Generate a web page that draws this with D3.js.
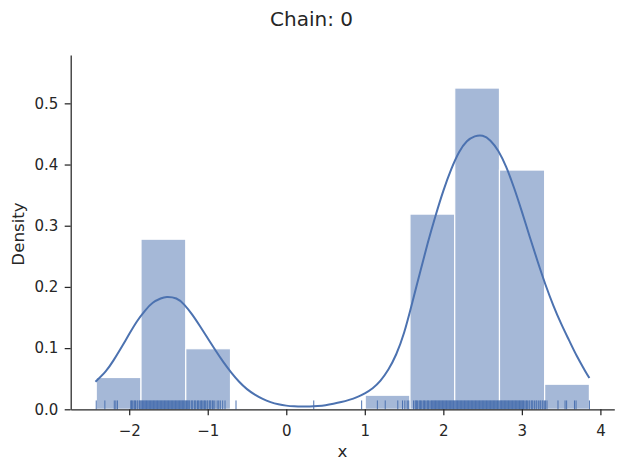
<!DOCTYPE html>
<html>
<head>
<meta charset="utf-8">
<script src="https://cdn.jsdelivr.net/npm/d3@7"></script>
<style>
body { margin: 0; background: #fff; }
svg text { font-family: "DejaVu Sans", sans-serif; fill: #262626; }
</style>
</head>
<body>
<div id="chart"></div>
<script>
var barColor = "#4c72b0";
var inkColor = "#262626";

/*** data ***/
var binEdges = [-2.42, -1.85, -1.28, -0.71, -0.14, 0.435, 1.005, 1.575, 2.145, 2.715, 3.29, 3.86];
var binDensity = [0.052, 0.278, 0.099, 0.002, 0.002, 0.002, 0.023, 0.319, 0.525, 0.391, 0.041];

var kdeX = [-2.43, -2.3, -2.2, -2.1, -2.0, -1.9, -1.8, -1.7, -1.6, -1.52, -1.4, -1.3, -1.2, -1.1, -1.0,
  -0.9, -0.8, -0.7, -0.6, -0.5, -0.4, -0.3, -0.2, -0.1, 0.0, 0.1, 0.2, 0.3, 0.4, 0.5, 0.6, 0.7, 0.8,
  0.9, 1.0, 1.1, 1.2, 1.3, 1.4, 1.5, 1.6, 1.7, 1.8, 1.9, 2.0, 2.1, 2.2, 2.3, 2.4, 2.5, 2.6, 2.7, 2.8,
  2.9, 3.0, 3.1, 3.2, 3.3, 3.4, 3.5, 3.6, 3.7, 3.8, 3.86];
var kdeY = [0.045, 0.062, 0.080, 0.101, 0.123, 0.144, 0.161, 0.174, 0.181, 0.1835, 0.181, 0.171, 0.155, 0.136, 0.116,
  0.096, 0.077, 0.060, 0.045, 0.033, 0.024, 0.017, 0.0118, 0.0082, 0.006, 0.0049, 0.0045, 0.0047, 0.0055, 0.0068, 0.0090, 0.0118, 0.0154,
  0.0200, 0.0262, 0.0345, 0.047, 0.065, 0.090, 0.125, 0.172, 0.222, 0.271, 0.316, 0.357, 0.392, 0.420, 0.438, 0.446, 0.447, 0.439, 0.422, 0.396,
  0.362, 0.323, 0.282, 0.242, 0.204, 0.170, 0.140, 0.113, 0.087, 0.064, 0.051];

var rugValues = [-2.42, -2.31, -2.19, -2.17, -2.15,
  -1.98, -1.97, -1.96, -1.94, -1.93, -1.92, -1.90, -1.89, -1.87, -1.86, -1.85, -1.84, -1.83, -1.82, -1.81,
  -1.80, -1.79, -1.78, -1.77, -1.76, -1.75, -1.74, -1.73, -1.72, -1.71, -1.70, -1.69, -1.68, -1.67, -1.66,
  -1.65, -1.64, -1.63, -1.62, -1.61, -1.60, -1.59, -1.58, -1.57, -1.56, -1.55, -1.54, -1.53, -1.52, -1.51,
  -1.50, -1.49, -1.48, -1.47, -1.46, -1.45, -1.44, -1.43, -1.42, -1.41, -1.40, -1.39, -1.38, -1.37, -1.36,
  -1.35, -1.34, -1.33, -1.32, -1.31, -1.30, -1.29, -1.28, -1.27, -1.26, -1.25, -1.24, -1.23, -1.21, -1.20,
  -1.19, -1.17, -1.16, -1.15, -1.13, -1.12, -1.11, -1.09, -1.08, -1.07, -1.05, -1.04, -1.03, -1.01, -1.00,
  -0.98, -0.97, -0.96, -0.94, -0.93, -0.91, -0.88, -0.86, -0.84, -0.81, -0.78,
  -0.64, 0.35, 0.96,
  1.16, 1.26, 1.42, 1.48, 1.51, 1.54, 1.56,
  1.62, 1.64, 1.65, 1.66, 1.67, 1.69, 1.70, 1.71, 1.72, 1.74, 1.75, 1.76, 1.77, 1.79, 1.80, 1.81, 1.82,
  1.84, 1.85, 1.86, 1.87, 1.88, 1.89, 1.90, 1.91, 1.92, 1.93, 1.94, 1.95, 1.96, 1.97, 1.98, 1.99, 2.00,
  2.01, 2.02, 2.03, 2.04, 2.05, 2.06, 2.07, 2.08, 2.09, 2.10, 2.11, 2.12, 2.13, 2.14, 2.15, 2.16, 2.17,
  2.18, 2.19, 2.20, 2.21, 2.22, 2.23, 2.24, 2.25, 2.26, 2.27, 2.28, 2.29, 2.30, 2.31, 2.32, 2.33, 2.34,
  2.35, 2.36, 2.37, 2.38, 2.39, 2.40, 2.41, 2.42, 2.43, 2.44, 2.45, 2.46, 2.47, 2.48, 2.49, 2.50, 2.51,
  2.52, 2.53, 2.54, 2.55, 2.56, 2.57, 2.58, 2.59, 2.60, 2.61, 2.62, 2.63, 2.64, 2.65, 2.66, 2.67, 2.68,
  2.69, 2.70, 2.71, 2.72, 2.73, 2.74, 2.75, 2.76, 2.77, 2.78, 2.79, 2.80, 2.81, 2.82, 2.83, 2.84, 2.85,
  2.86, 2.87, 2.88, 2.89, 2.90, 2.91, 2.92, 2.93, 2.94, 2.95, 2.96, 2.97, 2.98, 2.99, 3.00, 3.01, 3.02,
  3.03, 3.05, 3.06, 3.07, 3.09, 3.10, 3.12, 3.13, 3.14, 3.16, 3.18, 3.19, 3.21, 3.23, 3.24, 3.26, 3.27,
  3.29, 3.30, 3.32,
  3.46, 3.55, 3.57, 3.67, 3.69, 3.86];

var xTicks = [-2, -1, 0, 1, 2, 3, 4];
var yTicks = [0, 0.1, 0.2, 0.3, 0.4, 0.5];

/*** layout ***/
var W = 623, H = 472;
var plot = {left: 70.7, right: 614.3, top: 55, bottom: 409.3};

var svg = d3.select("#chart").append("svg").attr("width", W).attr("height", H);

var x = d3.scaleLinear().domain([-2.745, 4.177]).range([plot.left, plot.right]);
var y = d3.scaleLinear().domain([0, 0.579]).range([plot.bottom, plot.top]);

// histogram bars
svg.append("g").selectAll("rect")
   .data(binDensity)
   .enter()
   .append("rect")
   .attr("x", function(d, i) { return x(binEdges[i]); })
   .attr("y", function(d) { return y(d); })
   .attr("width", function(d, i) { return x(binEdges[i + 1]) - x(binEdges[i]); })
   .attr("height", function(d) { return y(0) - y(d); })
   .attr("fill", barColor)
   .attr("fill-opacity", 0.5)
   .attr("stroke", "#fff")
   .attr("stroke-width", 1.2);

// kde curve
var kdePoints = kdeX.map(function(v, i) { return [v, kdeY[i]]; });
var line = d3.line()
   .x(function(d) { return x(d[0]); })
   .y(function(d) { return y(d[1]); })
   .curve(d3.curveNatural);
svg.append("path")
   .attr("d", line(kdePoints))
   .attr("fill", "none")
   .attr("stroke", barColor)
   .attr("stroke-width", 2);

// rug
var rugH = 0.025 * (plot.bottom - plot.top);
svg.append("g").selectAll("line")
   .data(rugValues)
   .enter()
   .append("line")
   .attr("x1", function(d) { return x(d); })
   .attr("x2", function(d) { return x(d); })
   .attr("y1", y(0))
   .attr("y2", y(0) - rugH)
   .attr("stroke", barColor)
   .attr("stroke-width", 1);

// axes
var xAxis = d3.axisBottom(x).tickValues(xTicks).tickSize(6).tickSizeOuter(0).tickPadding(10)
   .tickFormat(d3.format("d"));
var yAxis = d3.axisLeft(y).tickValues(yTicks).tickSize(6).tickSizeOuter(0).tickPadding(6.4)
   .tickFormat(d3.format(".1f"));

var gx = svg.append("g").attr("transform", "translate(0," + plot.bottom + ")").call(xAxis);
var gy = svg.append("g").attr("transform", "translate(" + plot.left + ",0)").call(yAxis);

[gx, gy].forEach(function(g) {
  g.attr("font-family", null).attr("font-size", null);
  g.selectAll("path, line").attr("stroke", inkColor).attr("stroke-width", 1.25);
  g.selectAll("text").style("font-size", "15px").attr("fill", inkColor);
});

// labels
svg.append("text")
   .attr("x", W / 2).attr("y", 25.5)
   .attr("text-anchor", "middle")
   .style("font-size", "20px")
   .text("Chain: 0");

svg.append("text")
   .attr("x", (plot.left + plot.right) / 2).attr("y", 457)
   .attr("text-anchor", "middle")
   .style("font-size", "16.7px")
   .text("x");

svg.append("text")
   .attr("transform", "translate(24," + 234 + ") rotate(-90)")
   .attr("text-anchor", "middle")
   .style("font-size", "16.7px")
   .text("Density");
</script>
</body>
</html>
